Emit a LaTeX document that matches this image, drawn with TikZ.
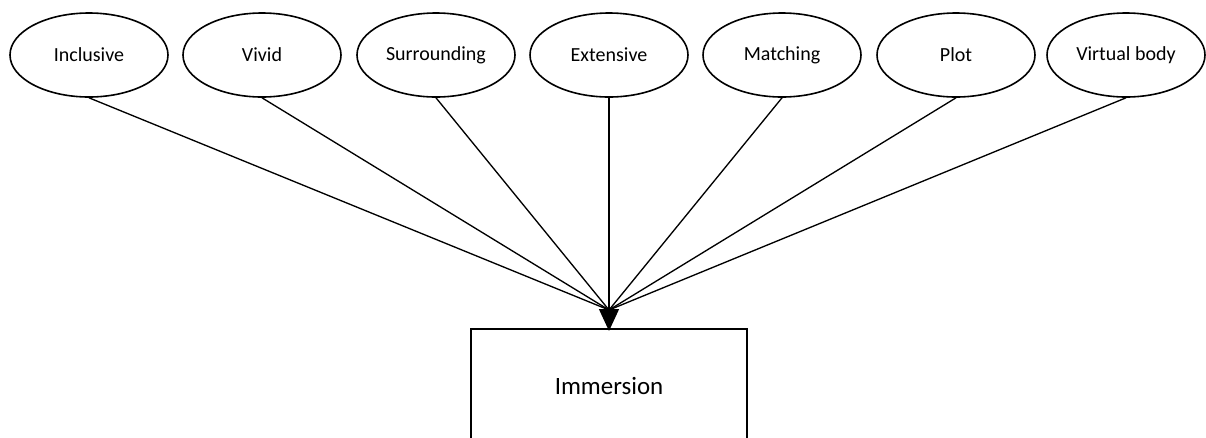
\documentclass[tikz,border=0pt]{standalone}
\usepackage{fontspec}
\setmainfont{Carlito}
\usetikzlibrary{shapes.geometric,arrows.meta}

\tikzset{
  factor/.style={ellipse, draw, line width=1.2pt, minimum width=118.5pt,
    minimum height=63pt, inner sep=0pt, font=\fontsize{15}{18}\selectfont},
  outcome/.style={rectangle, draw, line width=1pt, minimum width=207pt,
    minimum height=85.5pt, inner sep=0pt, font=\fontsize{18.7}{22}\selectfont},
  link/.style={line width=1pt},
  headlink/.style={line width=1pt, -{Triangle[length=16.5pt,width=15pt]}}
}

\begin{document}
\begin{tikzpicture}[x=0.75pt, y=-0.75pt]
  \useasboundingbox (0,0) rectangle (1206,437);

  % factor ellipses along the top
  \node[factor] (inc) at (89,55)   {Inclusive};
  \node[factor] (viv) at (262,55)  {Vivid};
  \node[factor] (sur) at (436,55)  {Surrounding};
  \node[factor] (ext) at (609,55)  {Extensive};
  \node[factor] (mat) at (782,55)  {Matching};
  \node[factor] (plo) at (956,55)  {Plot};
  \node[factor] (vbo) at (1126,55) {Virtual body};

  % result box, partly below the lower edge
  \node[outcome] (imm) at (609,386) {Immersion};

  % meeting point just above the arrowhead
  \coordinate (hub) at (609,310);

  \draw[link] (inc.south) -- (hub);
  \draw[link] (viv.south) -- (hub);
  \draw[link] (sur.south) -- (hub);
  \draw[link] (mat.south) -- (hub);
  \draw[link] (plo.south) -- (hub);
  \draw[link] (vbo.south) -- (hub);
  \draw[headlink] (ext.south) -- ([yshift=-2pt]imm.north);
\end{tikzpicture}
\end{document}
